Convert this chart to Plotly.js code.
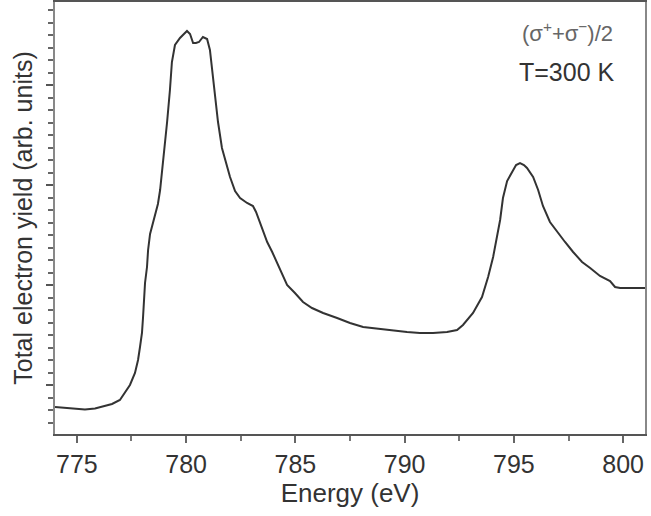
<!DOCTYPE html>
<html>
<head>
<meta charset="utf-8">
<script src="https://cdn.plot.ly/plotly-3.0.1.min.js"></script>
<style>html,body{margin:0;padding:0;background:#fff;} #chart{width:651px;height:516px;}</style>
</head>
<body>
<div id="chart"></div>
<script>
// Photon energy (eV)
const energy = [
  774.00, 774.46, 774.92, 775.37, 775.83, 776.29, 776.61, 776.97, 777.20, 777.43,
  777.66, 777.80, 777.89, 777.98, 778.03, 778.07, 778.12, 778.21, 778.26, 778.35,
  778.44, 778.58, 778.71, 778.81, 778.90, 779.03, 779.13, 779.26, 779.35, 779.49,
  779.72, 779.90, 780.04, 780.18, 780.32, 780.45, 780.59, 780.77, 780.96, 781.09,
  781.19, 781.32, 781.46, 781.64, 781.83, 782.01, 782.24, 782.47, 782.79, 783.06,
  783.20, 783.34, 783.48, 783.71, 783.94, 784.16, 784.39, 784.62, 784.98, 785.35,
  785.76, 786.27, 786.91, 787.50, 788.10, 788.87, 789.47, 790.11, 790.70, 791.30,
  791.94, 792.40, 792.67, 792.90, 793.13, 793.54, 793.82, 794.05, 794.23, 794.37,
  794.50, 794.69, 794.92, 795.10, 795.28, 795.46, 795.60, 795.88, 796.11, 796.33,
  796.65, 796.98, 797.34, 797.71, 798.12, 798.49, 798.94, 799.40, 799.63, 799.86,
  800.32, 801.00
];
// Total electron yield (arb. units), (sigma+ + sigma-)/2
const yieldTEY = [
  2.70, 2.60, 2.50, 2.45, 2.55, 2.80, 3.00, 3.40, 4.10, 4.90,
  6.10, 7.40, 8.70, 10.10, 11.70, 13.40, 15.10, 16.70, 18.40, 20.00,
  20.80, 22.00, 23.00, 24.40, 26.20, 28.90, 31.20, 34.40, 37.20, 38.90,
  39.60, 40.00, 40.30, 40.00, 39.10, 39.10, 39.20, 39.70, 39.50, 38.40,
  36.40, 33.60, 31.20, 28.60, 27.00, 25.70, 24.30, 23.60, 23.10, 22.80,
  22.20, 21.40, 20.50, 19.20, 18.20, 17.10, 15.90, 14.90, 14.10, 13.20,
  12.60, 12.10, 11.60, 11.10, 10.70, 10.50, 10.30, 10.20, 10.10, 10.10,
  10.20, 10.40, 10.90, 11.50, 12.10, 13.70, 15.70, 17.70, 19.70, 21.40,
  23.60, 25.30, 26.20, 26.90, 27.10, 26.90, 26.60, 25.70, 24.40, 22.80,
  21.20, 20.20, 19.20, 18.20, 17.20, 16.60, 15.80, 15.30, 14.70, 14.60,
  14.60, 14.60
];
const xTickVals = [775, 780, 785, 790, 795, 800];
const xTickText = ["775", "780", "785", "790", "795", "800"];
const labelLine1 = "(σ<sup>+</sup>+σ<sup>−</sup>)/2";
const labelLine2 = "T=300 K";

const FONT = "Arial, 'Liberation Sans', sans-serif";

const trace = {
  x: energy, y: yieldTEY, type: "scatter", mode: "lines",
  line: {color: "#333333", width: 2}, hoverinfo: "skip", showlegend: false
};

const layout = {
  width: 651, height: 516,
  margin: {l: 55, r: 6, t: 2, b: 82},
  paper_bgcolor: "#ffffff", plot_bgcolor: "#ffffff",
  font: {family: FONT, color: "#222222"},
  xaxis: {
    range: [774, 801], showgrid: false, zeroline: false,
    showline: true, linecolor: "#555555", linewidth: 2, mirror: true,
    tickmode: "array", tickvals: xTickVals, ticktext: xTickText,
    ticks: "outside", ticklen: 7, tickwidth: 2, tickcolor: "#666666",
    tickfont: {size: 25, family: FONT, color: "#333333"},
    minor: {dtick: 2.5, tick0: 775, ticks: "outside", ticklen: 5, tickwidth: 2, tickcolor: "#777777", showgrid: false},
    title: {text: "Energy (eV)", font: {size: 26, family: FONT, color: "#333333"}, standoff: 4},
    automargin: false
  },
  yaxis: {
    range: [0, 43.2], showgrid: false, zeroline: false,
    showline: true, linecolor: "#888888", linewidth: 2, mirror: true,
    showticklabels: false,
    tick0: 4.9, dtick: 10,
    ticks: "outside", ticklen: 7, tickwidth: 2, tickcolor: "#555555",
    minor: {dtick: 1.25, tick0: 4.9, ticks: "outside", ticklen: 5, tickwidth: 2, tickcolor: "#666666", showgrid: false},
    title: {text: "Total electron yield (arb. units)", font: {size: 25, family: FONT, color: "#333333"}, standoff: 6},
    automargin: false
  },
  annotations: [
    {xref: "paper", yref: "paper", x: 0.868, y: 0.93, text: labelLine1, showarrow: false,
     font: {size: 22, family: FONT, color: "#666666"}, xanchor: "center", yanchor: "middle"},
    {xref: "paper", yref: "paper", x: 0.868, y: 0.838, text: labelLine2, showarrow: false,
     font: {size: 25, family: FONT, color: "#333333"}, xanchor: "center", yanchor: "middle"}
  ]
};

Plotly.newPlot("chart", [trace], layout, {staticPlot: true, displayModeBar: false});
</script>
</body>
</html>
